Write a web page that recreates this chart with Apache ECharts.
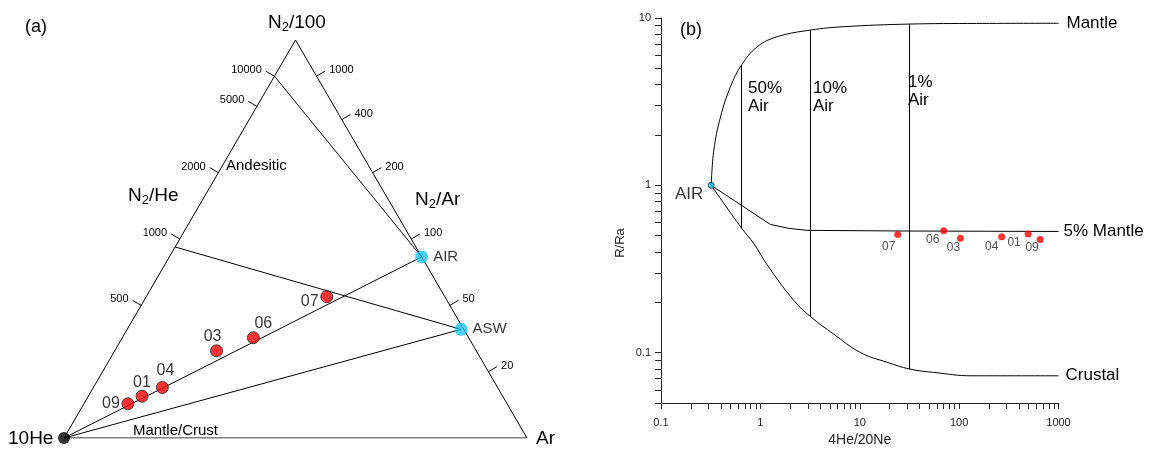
<!DOCTYPE html>
<html>
<head>
<meta charset="utf-8">
<title>N2-He-Ar ternary and R/Ra vs 4He/20Ne</title>
<script src="https://cdn.jsdelivr.net/npm/echarts@6.0.0/dist/echarts.min.js"></script>
<style>
  html, body { margin: 0; padding: 0; background: #fff; }
  #chart { width: 1149px; height: 449px; }
</style>
</head>
<body>
<div id="chart"></div>
<script>
// samples, same order in both panels
var sampleNames = ["09", "01", "04", "03", "06", "07"];
// (a) ternary composition in %: N2/100, 10He, Ar
var sampleN2 = [8.6, 10.5, 12.7, 21.9, 25.2, 35.5];
var sampleHe = [81.9, 77.9, 72.4, 56.1, 46.5, 25.5];
var sampleAr = [9.5, 11.6, 14.9, 22.0, 28.3, 39.0];
// (b) 4He/20Ne and R/Ra
var sampleHeNe = [653, 494, 268, 103, 70, 24.1];
var sampleRRa = [0.475, 0.511, 0.493, 0.482, 0.535, 0.509];

// reference points on the ternary
var refNames = ["AIR", "ASW"];
var refN2 = [45.5, 27.3];
var refHe = [0, 0.6];
var refAr = [54.5, 72.1];

// ratio ticks along the sides
var n2HeTicks = [500, 1000, 2000, 5000, 10000];
var n2ArTicks = [1000, 400, 200, 100, 50, 20];

// lines from the N2-He side (N2/He ratio) to a reference point
var lineStartRatio = [923, 10000];
var lineEndRef = ["ASW", "AIR"];

// (b) mixing curves
var airPoint = [0.32, 1];
var mantleX = [0.32, 0.34, 0.397, 0.50, 0.645, 0.93, 1.48, 3.24, 6.9, 32, 150, 1000];
var mantleR = [1, 1.62, 2.56, 3.88, 5.23, 6.73, 7.73, 8.48, 8.87, 9.2, 9.28, 9.3];
var mantle5X = [0.32, 1.26, 1.93, 2.96, 31.8, 1000];
var mantle5R = [1, 0.584, 0.553, 0.538, 0.533, 0.530];
var crustX = [0.32, 0.645, 0.86, 1.17, 2.17, 3.2, 5.47, 10.2, 18.9, 31.8, 55.5, 135, 1000];
var crustR = [1, 0.556, 0.448, 0.335, 0.205, 0.164, 0.129, 0.1, 0.0875, 0.0798, 0.0762, 0.0727, 0.0727];

// air fraction lines
var airPct = ["50%", "10%", "1%"];
var airX = [0.636, 3.18, 31.8];
var airLow = [0.556, 0.164, 0.0798];
var airHigh = [5.23, 8.48, 9.2];

// decades of the log axes
var xDecades = [0.1, 1, 10, 100, 1000];
var yDecades = [0.1, 1, 10];

var FONT = "Liberation Sans, Arial, sans-serif";

// ternary -> x/y in the hidden 0..100 axes
function tern(n2, he, ar) {
  var s = n2 + he + ar;
  return [(ar + n2 / 2) / s * 100, n2 / s * 100];
}

function pairs(xs, ys) {
  return xs.map(function (x, i) { return [x, ys[i]]; });
}

function decadeLabel(v) {
  var l = Math.log10(v);
  return Math.abs(l - Math.round(l)) < 1e-6 ? String(v) : "";
}

// decade ticks plus 2..9 inside each decade
function logTicks(decades, lo, hi) {
  var out = [];
  [decades[0] / 10].concat(decades).forEach(function (d) {
    for (var k = 1; k <= 9; k++) {
      var v = +(d * k).toPrecision(3);
      if (v >= lo && v <= hi && out.indexOf(v) < 0) out.push(v);
    }
  });
  return out;
}

var refPos = {};
refNames.forEach(function (n, i) { refPos[n] = tern(refN2[i], refHe[i], refAr[i]); });

var tickData = [];
var tickLabels = [];
n2HeTicks.forEach(function (r) { tickData.push(tern(r, 1000, 0).concat(-1)); tickLabels.push(String(r)); });
n2ArTicks.forEach(function (r) { tickData.push(tern(r, 0, 100).concat(1)); tickLabels.push(String(r)); });

function renderTick(params, api) {
  var side = api.value(2);
  var p = api.coord([api.value(0), api.value(1)]);
  var a = api.coord(side < 0 ? tern(0, 1, 0) : tern(1, 0, 0));
  var b = api.coord(side < 0 ? tern(1, 0, 0) : tern(0, 0, 1));
  var dx = b[0] - a[0], dy = b[1] - a[1];
  var len = Math.sqrt(dx * dx + dy * dy);
  var nx = dy / len, ny = -dx / len; // outward normal
  var e = [p[0] + nx * 10, p[1] + ny * 10];
  return {
    type: "group",
    children: [
      { type: "line", shape: { x1: p[0], y1: p[1], x2: e[0], y2: e[1] }, style: { stroke: "#000", lineWidth: 1 } },
      {
        type: "text", x: e[0] + side * 4, y: e[1] - 1,
        style: {
          text: tickLabels[params.dataIndex], fontSize: 11, fontFamily: FONT, fill: "#000",
          align: side < 0 ? "right" : "left", verticalAlign: "middle"
        }
      }
    ]
  };
}

// label placement of the sample numbers
var aLabelOffset = { "09": [-17, 0], "01": [0, -14], "04": [3, -17], "03": [-4, -14], "06": [10, -14], "07": [-17, 5] };
var bLabelOffset = { "09": [-8, 8], "01": [-14, 9], "04": [-10, 10], "03": [-7, 9], "06": [-11, 9], "07": [-9, 12] };

var triangle = [tern(0, 1, 0), tern(0, 0, 1), tern(1, 0, 0), tern(0, 1, 0)];
var heVertex = tern(0, 1, 0);

var aLines = [
  [heVertex, refPos.AIR],
  [heVertex, refPos.ASW]
];
lineStartRatio.forEach(function (r, i) { aLines.push([tern(r, 1000, 0), refPos[lineEndRef[i]]]); });

function txt(text, x, y, size, extra) {
  var style = { text: text, fontSize: size, fontFamily: FONT, fill: "#000", align: "left", verticalAlign: "middle",
    textAlign: "left", textVerticalAlign: "middle" };
  for (var k in (extra || {})) style[k] = extra[k];
  return { type: "text", x: x, y: y, style: style, silent: true };
}

function subText(main, rest, x, y) {
  return {
    type: "text", x: x, y: y, silent: true,
    style: {
      text: "{n|" + main + "}{s|2}{n|" + rest + "}",
      align: "left", verticalAlign: "middle", textAlign: "left", textVerticalAlign: "middle",
      rich: {
        n: { fontSize: 19, fontFamily: FONT, fill: "#000", color: "#000" },
        s: { fontSize: 13, fontFamily: FONT, fill: "#000", color: "#000", padding: [9, 0, 0, 0] }
      }
    }
  };
}

var axisColor = "#222";

var chart = echarts.init(document.getElementById("chart"));
chart.setOption({
  animation: false,
  backgroundColor: "#fff",
  grid: [
    { left: 64, top: 40, width: 463, height: 398, containLabel: false, outerBoundsMode: "none" },
    { left: 661, top: 18, width: 397.5, height: 385, containLabel: false, outerBoundsMode: "none" }
  ],
  xAxis: [
    { gridIndex: 0, type: "value", min: 0, max: 100, show: false },
    {
      gridIndex: 1, type: "log", logBase: 10, min: 0.1, max: 1000,
      name: "4He/20Ne", nameLocation: "middle", nameGap: 30,
      nameTextStyle: { fontSize: 14, color: "#222", fontFamily: FONT },
      axisLine: { show: true, lineStyle: { color: axisColor, width: 1 } },
      axisTick: { show: true, inside: false, length: 6, lineStyle: { color: axisColor },
        customValues: logTicks(xDecades, 0.1, 1000) },
      axisLabel: { margin: 14, fontSize: 11, color: "#222", fontFamily: FONT, formatter: decadeLabel },
      splitLine: { show: false }
    }
  ],
  yAxis: [
    { gridIndex: 0, type: "value", min: 0, max: 100, show: false },
    {
      gridIndex: 1, type: "log", logBase: 10, min: 0.05, max: 10,
      axisLine: { show: true, lineStyle: { color: axisColor, width: 1 } },
      axisTick: { show: true, inside: false, length: 6, lineStyle: { color: axisColor },
        customValues: logTicks(yDecades, 0.05, 10) },
      axisLabel: { margin: 10, fontSize: 11, color: "#222", fontFamily: FONT, formatter: decadeLabel },
      splitLine: { show: false }
    }
  ],
  series: [
    // (a) ternary frame and mixing lines
    { type: "line", xAxisIndex: 0, yAxisIndex: 0, data: triangle, symbol: "none", silent: true,
      lineStyle: { color: "#000", width: 1 } },
    { type: "lines", coordinateSystem: "cartesian2d", xAxisIndex: 0, yAxisIndex: 0, silent: true,
      data: aLines.map(function (c) { return { coords: c }; }),
      lineStyle: { color: "#000", width: 1, opacity: 1 } },
    { type: "custom", xAxisIndex: 0, yAxisIndex: 0, data: tickData, renderItem: renderTick, silent: true, clip: false },
    { type: "scatter", xAxisIndex: 0, yAxisIndex: 0, symbolSize: 12, silent: true, z: 5,
      data: [heVertex], itemStyle: { color: "#000" } },
    { type: "scatter", xAxisIndex: 0, yAxisIndex: 0, symbolSize: 13, silent: true, z: 5,
      data: refNames.map(function (n) { return { name: n, value: refPos[n] }; }),
      itemStyle: { color: "#1cc2f2" },
      label: { show: true, position: "right", distance: 5, formatter: "{b}", fontSize: 15, color: "#000", fontFamily: FONT } },
    { type: "scatter", xAxisIndex: 0, yAxisIndex: 0, symbolSize: 12, silent: true, z: 6,
      data: sampleNames.map(function (n, i) {
        return { name: n, value: tern(sampleN2[i], sampleHe[i], sampleAr[i]), label: { offset: aLabelOffset[n] } };
      }),
      itemStyle: { color: "#ff0000", borderColor: "#222", borderWidth: 1 },
      label: { show: true, position: "inside", formatter: "{b}", fontSize: 16, color: "#000", fontFamily: FONT } },

    // (b) mixing curves
    { type: "line", xAxisIndex: 1, yAxisIndex: 1, data: pairs(mantleX, mantleR), symbol: "none", silent: true,
      smooth: 0.4, lineStyle: { color: "#000", width: 1 },
      endLabel: { show: true, formatter: "Mantle", distance: 8, fontSize: 17, color: "#000", fontFamily: FONT } },
    { type: "line", xAxisIndex: 1, yAxisIndex: 1, data: pairs(mantle5X, mantle5R), symbol: "none", silent: true,
      lineStyle: { color: "#000", width: 1 },
      endLabel: { show: true, formatter: "5% Mantle", distance: 5, fontSize: 17, color: "#000", fontFamily: FONT } },
    { type: "line", xAxisIndex: 1, yAxisIndex: 1, data: pairs(crustX, crustR), symbol: "none", silent: true,
      smooth: 0.4, lineStyle: { color: "#000", width: 1 },
      endLabel: { show: true, formatter: "Crustal", distance: 7, fontSize: 17, color: "#000", fontFamily: FONT } },
    { type: "lines", coordinateSystem: "cartesian2d", xAxisIndex: 1, yAxisIndex: 1, silent: true,
      data: airX.map(function (x, i) { return { coords: [[x, airLow[i]], [x, airHigh[i]]] }; }),
      lineStyle: { color: "#000", width: 1, opacity: 1 } },
    { type: "scatter", xAxisIndex: 1, yAxisIndex: 1, symbolSize: 6, silent: true, z: 5,
      data: [{ name: "AIR", value: airPoint }],
      itemStyle: { color: "#1cc2f2", borderColor: "#123", borderWidth: 1 },
      label: { show: true, position: "inside", offset: [-22, 9], formatter: "{b}", fontSize: 17, color: "#000", fontFamily: FONT } },
    { type: "scatter", xAxisIndex: 1, yAxisIndex: 1, symbolSize: 7, silent: true, z: 6,
      data: sampleNames.map(function (n, i) {
        return { name: n, value: [sampleHeNe[i], sampleRRa[i]], label: { offset: bLabelOffset[n] } };
      }),
      itemStyle: { color: "#ff0000" },
      label: { show: true, position: "inside", formatter: "{b}", fontSize: 12, color: "#222", fontFamily: FONT } }
  ],
  graphic: [
    txt("(a)", 25, 27.5, 18),
    txt("(b)", 680, 30.5, 18),
    subText("N", "/100", 268, 22.5),
    subText("N", "/He", 128, 196),
    subText("N", "/Ar", 415, 200),
    txt("Andesitic", 226, 165.5, 15),
    txt("Mantle/Crust", 133, 431, 15),
    txt("10He", 8, 438.5, 19),
    txt("Ar", 536, 438.5, 19),
    txt(airPct[0] + "\nAir", 748, 79, 17, { verticalAlign: "top", textVerticalAlign: "top", lineHeight: 18 }),
    txt(airPct[1] + "\nAir", 813, 79, 17, { verticalAlign: "top", textVerticalAlign: "top", lineHeight: 18 }),
    txt(airPct[2] + "\nAir", 908, 73, 17, { verticalAlign: "top", textVerticalAlign: "top", lineHeight: 18 }),
    { type: "text", x: 620, y: 243, rotation: Math.PI / 2, silent: true,
      style: { text: "R/Ra", fontSize: 13, fontFamily: FONT, fill: "#222", align: "center", verticalAlign: "middle",
        textAlign: "center", textVerticalAlign: "middle" } }
  ]
});
</script>
</body>
</html>
